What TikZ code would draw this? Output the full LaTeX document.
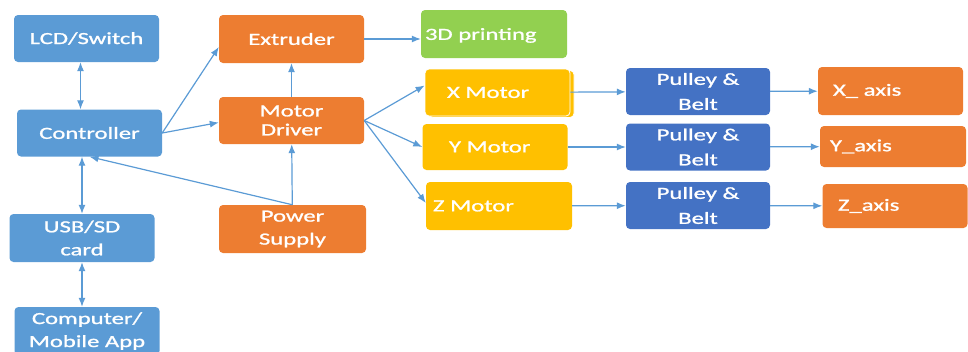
\documentclass[tikz,border=0pt]{standalone}
\usepackage{fontspec}
\setmainfont{Carlito}[FakeStretch=1.45,FakeBold=1.2]
\usetikzlibrary{arrows.meta,shadows}
\definecolor{ltblue}{HTML}{5B9BD5}
\definecolor{dkblue}{HTML}{4472C4}
\definecolor{orng}{HTML}{ED7D31}
\definecolor{grn}{HTML}{92D050}
\definecolor{ylw}{HTML}{FFC000}

\begin{document}
\begin{tikzpicture}[x=1pt,y=-1pt,
	box/.style={rounded corners=4pt,text=white,font=\fontsize{17}{23}\selectfont,minimum width=145pt,minimum height=47pt,align=center,inner sep=2pt},
	lbox/.style 2 args={box,align=left,inner xsep=#1,text width=#2},
	link/.style={draw=ltblue,line width=1.2pt,>={Latex[length=9pt,width=7pt]}}]
	\clip (0,0) rectangle (968,351);
	\node[box,fill=ltblue] (lcd) at (86.5,38.5) {LCD/Switch};
	\node[box,fill=ltblue] (ctrl) at (89.5,133) {Controller};
	\node[box,fill=ltblue,minimum height=48pt] (usb) at (82,238) {USB/SD\\card};
	\node[box,fill=ltblue,minimum height=48pt] (comp) at (87,331) {Computer/\\Mobile App};
	\node[box,fill=orng,minimum height=48pt] (extr) at (291.5,39) {Extruder};
	\node[box,fill=orng,font=\fontsize{17}{19}\selectfont] (drv) at (291.5,120.5) {Motor\\Driver};
	\node[box,fill=orng,minimum width=147pt,minimum height=48pt] (pwr) at (292.5,229) {Power\\Supply};
	\node[lbox={4pt}{138pt},fill=grn,minimum height=48pt,text depth=0pt] (print3d) at (494,34) {3D printing};
	\node[lbox={20pt}{101pt},fill=ylw,draw=white,line width=0.8pt,copy shadow={shadow xshift=4pt,shadow yshift=-1.5pt}] (xm) at (497.5,92.5) {X Motor};
	\node[lbox={26pt}{92pt},fill=ylw,minimum height=46pt] (ym) at (495,147) {Y Motor};
	\node[lbox={7pt}{132pt},fill=ylw,minimum height=48pt] (zm) at (499,206) {Z Motor};
	\foreach \n/\y in {pb1/91.5,pb2/147,pb3/205.5}
		\node[box,fill=dkblue,minimum width=144pt,font=\fontsize{17}{25}\selectfont] (\n) at (698,\y) {Pulley \&\\Belt};
	\node[lbox={15pt}{115pt},fill=orng,minimum height=48pt] (xa) at (890.5,91) {X\_ axis};
	\node[lbox={10pt}{126pt},fill=orng,minimum height=41pt] (ya) at (893,146.5) {Y\_axis};
	\node[lbox={15pt}{114pt},fill=orng,minimum height=44pt] (za) at (895,206) {Z\_axis};
	\draw[link,<->] ([xshift=-6pt]lcd.south) -- ([xshift=-6pt]lcd.south |- ctrl.north);
	\draw[link,<->] (ctrl.south -| usb) -- (usb);
	\draw[link,<->] (usb) -- (usb |- comp.north);
	\draw[link,->] (pwr.north) -- (ctrl.south);
	\draw[link,->] (pwr) -- (drv);
	\draw[link,->] (drv) -- (extr);
	\draw[link,->] (ctrl.east) -- ([yshift=-8pt]extr.west);
	\draw[link,->] (ctrl.east) -- ([yshift=-2pt]drv.west);
	\draw[link,->] (extr) -- (extr -| print3d.west);
	\draw[link,->] (drv.east) -- ([yshift=7pt]xm.west);
	\draw[link,->] (drv.east) -- (ym.west);
	\draw[link,->] (drv.east) -- ([yshift=3pt]zm.west);
	\foreach \a/\b in {xm/pb1,ym/pb2,zm/pb3,pb1/xa,pb2/ya,pb3/za}
		\draw[link,->] (\a) -- (\b);
\end{tikzpicture}
\end{document}
